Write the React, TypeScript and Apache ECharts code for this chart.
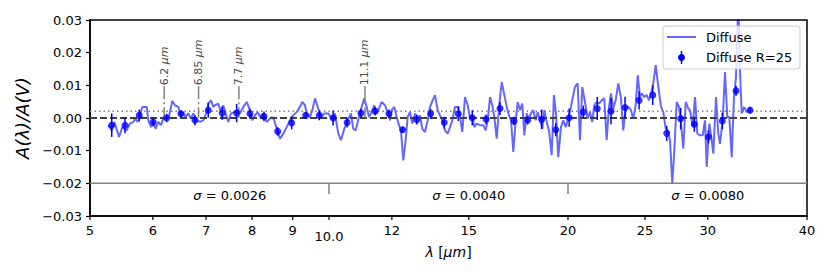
import React, { useEffect, useRef } from "react";
import * as echarts from "echarts";

// ---- Data ----
const specLam = [
  5.272, 5.325, 5.365, 5.439, 5.491, 5.561, 5.615, 5.669, 5.697, 5.742,
  5.78, 5.819, 5.894, 5.921, 5.968, 6.007, 6.049, 6.095, 6.143, 6.184,
  6.245, 6.287, 6.348, 6.398, 6.459, 6.51, 6.553, 6.599, 6.649, 6.701,
  6.746, 6.813, 6.879, 6.945, 7.013, 7.046, 7.101, 7.149,
  7.184, 7.253, 7.31, 7.359, 7.41, 7.467, 7.525, 7.598, 7.673, 7.724,
  7.799, 7.876, 7.952, 8.005, 8.068, 8.131, 8.186, 8.265, 8.346, 8.427,
  8.483, 8.532, 8.592, 8.675, 8.758, 8.845, 8.93, 9.016, 9.105, 9.193,
  9.254, 9.327, 9.373, 9.463, 9.527, 9.602, 9.677, 9.77, 9.864, 9.979,
  10.078,
  10.174, 10.272, 10.353, 10.453, 10.556, 10.658, 10.729, 10.804, 10.908, 10.994,
  11.077, 11.155, 11.229, 11.318, 11.403, 11.483, 11.56, 11.65, 11.763, 11.855,
  11.934, 11.993, 12.084, 12.168, 12.25, 12.321, 12.404, 12.49, 12.563, 12.647,
  12.732, 12.832, 12.933, 13.019, 13.107, 13.209, 13.313, 13.403, 13.508, 13.599,
  13.705, 13.797, 13.89, 14.0, 14.11, 14.205, 14.3,
  14.412, 14.551, 14.623, 14.721, 14.836, 14.953, 15.053, 15.154, 15.242, 15.348,
  15.496, 15.645, 15.754, 15.846, 15.952, 16.059, 16.152, 16.265, 16.374, 16.503,
  16.628, 16.744, 16.856, 16.954, 17.067, 17.187, 17.286, 17.402, 17.519, 17.621,
  17.741, 17.86, 17.963, 18.084, 18.21, 18.316, 18.439, 18.562, 18.67, 18.8,
  18.926, 19.075, 19.202, 19.314, 19.443, 19.596, 19.728, 19.865, 20.016, 20.173,
  20.308,
  20.408, 20.568, 20.706, 20.845, 21.009, 21.174, 21.315, 21.458, 21.583, 21.733,
  21.879, 22.051, 22.218, 22.373, 22.523, 22.655, 22.807, 22.966, 23.14, 23.322,
  23.477, 23.641, 23.82, 24.007, 24.168, 24.337, 24.483, 24.647, 24.768, 24.955,
  25.13, 25.298, 25.445, 25.615, 25.794, 25.989, 26.193, 26.368, 26.553, 26.707,
  26.886, 27.066, 27.223, 27.413, 27.597, 27.757, 27.943, 28.138, 28.351,
  28.492, 28.715, 28.907, 29.101, 29.33, 29.56, 29.758, 29.905, 30.131, 30.342,
  30.483, 30.722, 30.928, 31.081, 31.325, 31.535, 31.746, 31.93, 32.154, 32.368,
  32.557, 32.775, 32.937, 33.1, 33.321, 33.583, 33.837,
];
const specVal = [
  -0.0022, -0.0038, -0.0012, -0.0058, -0.0028, -0.0038, -0.0017, -0.0012, -0.0002, -0.0012,
  0.0008, 0.0034, 0.0034, -0.0007, -0.0028, -0.0012, -0.0033, -0.0012, -0.0022, -0.0002,
  -0.0002, 0.0005, 0.0052, 0.0039, 0.0034, 0.0005, 0.0018, 0.0003, 0.0014, -0.0002,
  0.0014, -0.0007, -0.0012, -0.0007, 0.0018, 0.0044, 0.0054, 0.0034,
  0.0039, 0.0044, 0.0018, 0.0039, 0.0014, -0.0012, 0.0014, 0.0018, 0.0024, 0.0014,
  0.0034, 0.0049, 0.0024, -0.0007, 0.0008, 0.0018, 0.0003, 0.0014, -0.0012, -0.0002,
  0.0003, -0.0007, -0.0033, -0.0063, -0.0048, -0.0028, -0.0007, 0.0008, 0.0018, 0.0034,
  0.0049, 0.0039, 0.0014, 0.0003, 0.0024, 0.006, 0.0034, 0.0003, 0.0014, 0.0014,
  -0.0002,
  0.0014, -0.0048, -0.0068, -0.0033, -0.0007, 0.0014, -0.0033, -0.0038, 0.0003, 0.0034,
  0.006, 0.0034, 0.0003, 0.0018, 0.0039, 0.0014, 0.0029, 0.0049, 0.0039, 0.0018,
  -0.0007, 0.0024, 0.0034, 0.0003, -0.0022, -0.0038, -0.013, -0.0068, 0.0003, 0.0018,
  -0.0017, 0.0014, -0.0002, 0.0008, -0.0033, -0.0043, -0.0007, 0.0034, 0.0054, 0.007,
  0.0024, 0.0008, -0.0007, -0.0038, -0.0048, -0.0028, -0.0007,
  0.0034, 0.0034, 0.0003, -0.0043, 0.0064, 0.0039, -0.0002, 0.0008, -0.0028, -0.0017,
  -0.0022, -0.0022, -0.0038, -0.0007, 0.0064, 0.0039, 0.0003, -0.0063, 0.0034, 0.011,
  0.007, 0.0034, 0.0008, -0.0007, -0.0104, -0.0007, 0.0049, 0.0024, 0.0044, -0.0053,
  0.0014, -0.0002, 0.0014, 0.0024, -0.0007, 0.0018, -0.0007, -0.0033, 0.0024, -0.0012,
  -0.0038, -0.0114, 0.007, 0.0014, -0.012, -0.0028, -0.0007, -0.0028, -0.0002, 0.0034,
  0.007,
  0.0095, 0.0106, -0.0068, 0.0095, 0.0049, -0.0002, 0.0018, -0.0012, 0.0039, 0.0049,
  0.0044, 0.0054, 0.006, -0.0068, 0.0034, 0.0075, 0.0029, 0.0054, 0.0106, 0.006,
  -0.0038, 0.0029, 0.0034, 0.0024, -0.0002, 0.0039, 0.0131, 0.0064, 0.0075, 0.0064,
  0.007, 0.0054, 0.0075, 0.0106, 0.0162, 0.0095, 0.0034, 0.0018, -0.0033, -0.0038,
  -0.0068, -0.0201, -0.0099, 0.0049, 0.0034, -0.0017, -0.0094, 0.0049, 0.0029,
  0.0024, -0.0028, 0.0064, -0.0048, -0.0053, -0.0053, -0.0007, -0.015, -0.0017, -0.0068,
  -0.0109, 0.0064, -0.0048, -0.0079, -0.0007, 0.0141, 0.0003, 0.0003, -0.012, 0.0064,
  0.0126, 0.036, 0.0146, 0.0014, 0.0034, 0.0018, 0.0024,
];

const binLam = [
  5.325, 5.534, 5.768, 6.006, 6.245, 6.509, 6.779, 7.046, 7.337, 7.65,
  7.952, 8.281, 8.617, 8.974, 9.346, 9.722, 10.12, 10.54, 10.97, 11.43,
  11.9, 12.38, 12.9, 13.43, 13.97, 14.55, 15.15, 15.77, 16.42, 17.1,
  17.79, 18.53, 19.3, 20.07, 20.91, 21.77, 22.66, 23.6, 24.58, 25.57,
  26.63, 27.73, 28.85, 30.05, 31.29, 32.56, 33.91,
];
const binVal = [
  -0.0022, -0.0022, 0.0008, -0.0012, 0.0, 0.0013, -0.0007, 0.0024, 0.0015, 0.0015,
  0.0013, 0.0005, -0.0041, -0.0015, 0.0008, 0.0008, 0.0, -0.0014, 0.0015, 0.0021,
  0.0013, -0.0036, -0.0005, 0.0013, -0.0014, 0.0013, 0.0001, -0.0004, 0.0029, -0.0009,
  -0.0007, -0.0004, -0.0036, 0.0001, 0.0018, 0.0029, 0.0021, 0.0032, 0.0054, 0.007,
  -0.0047, -0.0002, -0.0019, -0.0058, -0.0009, 0.0083, 0.0024,
];
const binErr = [
  0.0036, 0.0025, 0.0018, 0.0013, 0.0013, 0.001, 0.0015, 0.0023, 0.002, 0.0028,
  0.0015, 0.0015, 0.0013, 0.002, 0.001, 0.0015, 0.0023, 0.0015, 0.0013, 0.0013,
  0.0013, 0.001, 0.0015, 0.0015, 0.0018, 0.0022, 0.0023, 0.0015, 0.002, 0.0013,
  0.0013, 0.003, 0.002, 0.0028, 0.002, 0.0035, 0.004, 0.0033, 0.0028, 0.003,
  0.0023, 0.0033, 0.0023, 0.002, 0.0025, 0.0015, 0.001,
];

const featureLam = [6.2, 6.85, 7.7, 11.1];
const featureLabels = ["6.2", "6.85", "7.7", "11.1"];
const featureTop = 0.0097;

const xTickVals = [5, 6, 7, 8, 9, 10, 12, 15, 20, 25, 30, 40];
const xTickLabels = ["5", "6", "7", "8", "9", "10.0", "12", "15", "20", "25", "30", "40"];

const sigmaStart = [5, 10, 20];
const sigmaEnd = [10, 20, 40];
const sigmaLabels = ["0.0026", "0.0040", "0.0080"];
const sigmaLevel = -0.02;
const sigmaTickEnd = -0.0233;
const sigmaTextLevel = -0.0237;

const refLevels = [0, 0.0021];

const FONT = "'DejaVu Sans', sans-serif";

export default function App() {
  const ref = useRef<HTMLDivElement>(null);

  useEffect(() => {
    document.body.style.margin = "0";
    const chart = echarts.init(ref.current!, null, { renderer: "svg" });

    const option: any = {
      animation: false,
      grid: {
        left: 90,
        right: 23,
        top: 20,
        bottom: 61,
        show: true,
        borderColor: "#000",
        borderWidth: 1.5,
        backgroundColor: "transparent",
      },
      xAxis: {
        type: "log",
        logBase: 10,
        min: 5,
        max: 40,
        axisLine: { show: true, onZero: false, lineStyle: { color: "#000", width: 1.5 } },
        axisTick: { show: false },
        axisLabel: { show: false },
        splitLine: { show: false },
        minorTick: { show: false },
        name: "{i|λ} [{i|μm}]",
        nameLocation: "middle",
        nameGap: 29,
        nameTextStyle: {
          color: "#000",
          fontSize: 14,
          fontFamily: FONT,
          rich: { i: { fontStyle: "italic", fontSize: 14, fontFamily: FONT, color: "#000" } },
        },
      },
      yAxis: {
        type: "value",
        min: -0.03,
        max: 0.03,
        interval: 0.01,
        axisLine: { show: true, onZero: false, lineStyle: { color: "#000", width: 1.5 } },
        axisTick: { show: true, length: 4, lineStyle: { color: "#000", width: 1.2 } },
        axisLabel: {
          color: "#000",
          fontSize: 13,
          fontFamily: FONT,
          margin: 8,
          formatter: (v: number) =>
            Math.abs(v) < 1e-9 ? "0.00" : (v < 0 ? "\u2212" : "") + Math.abs(v).toFixed(2),
        },
        splitLine: { show: false },
        name: "A(λ)/A(V)",
        nameLocation: "middle",
        nameGap: 57,
        nameRotate: 90,
        nameTextStyle: { color: "#000", fontSize: 18, fontStyle: "italic", fontFamily: FONT },
      },
      series: [
        {
          name: "Diffuse",
          type: "line",
          data: specLam.map((l, i) => [l, specVal[i]]),
          symbol: "none",
          showSymbol: false,
          clip: true,
          lineStyle: { color: "rgba(0,0,255,0.6)", width: 2 },
          z: 2,
          silent: true,
        },
        {
          name: "ref",
          type: "custom",
          data: refLevels.map((l) => [5, 40, l]),
          encode: { x: [0, 1], y: 2 },
          z: 3,
          silent: true,
          renderItem: (params: any, api: any) => {
            const a = api.coord([api.value(0), api.value(2)]);
            const b = api.coord([api.value(1), api.value(2)]);
            const st =
              params.dataIndex === 0
                ? { stroke: "#404040", lineWidth: 2, lineDash: [7, 3], fill: null }
                : { stroke: "#808080", lineWidth: 1.5, lineDash: [1.5, 3], fill: null };
            return { type: "line", shape: { x1: a[0], y1: a[1], x2: b[0], y2: b[1] }, style: st };
          },
        },
        {
          name: "features",
          type: "custom",
          data: featureLam.map((l) => [l, 0]),
          encode: { x: 0, y: 1 },
          z: 3,
          silent: true,
          renderItem: (params: any, api: any) => {
            const lam = api.value(0);
            const top = api.coord([lam, featureTop]);
            const bot = api.coord([lam, 0]);
            return {
              type: "group",
              children: [
                {
                  type: "line",
                  shape: { x1: top[0], y1: top[1], x2: bot[0], y2: bot[1] },
                  style: { stroke: "#808080", lineWidth: 1.5, lineDash: [13, 3, 2, 3], fill: null },
                },
                {
                  type: "text",
                  x: top[0],
                  y: top[1] - 1,
                  rotation: Math.PI / 2,
                  style: {
                    text: featureLabels[params.dataIndex] + " {i|μm}",
                    fill: "#4a4a4a",
                    font: `11px ${FONT}`,
                    align: "left",
                    verticalAlign: "middle",
                    rich: { i: { fontStyle: "italic", fontSize: 11, fontFamily: FONT, fill: "#4a4a4a" } },
                  },
                },
              ],
            };
          },
        },
        {
          name: "sigma",
          type: "custom",
          data: sigmaStart.map((s, i) => [s, sigmaEnd[i], sigmaLevel]),
          encode: { x: [0, 1], y: 2 },
          z: 3,
          silent: true,
          renderItem: (params: any, api: any) => {
            const s = api.value(0);
            const e = api.value(1);
            const a = api.coord([s, sigmaLevel]);
            const b = api.coord([e, sigmaLevel]);
            const t = api.coord([s, sigmaTickEnd]);
            const m = api.coord([(s + e) / 2, sigmaTextLevel]);
            const children: any[] = [
              {
                type: "line",
                shape: { x1: a[0], y1: a[1], x2: b[0], y2: b[1] },
                style: { stroke: "#808080", lineWidth: 1.5, fill: null },
              },
              {
                type: "text",
                x: m[0],
                y: m[1],
                style: {
                  text: "{s|σ} = " + sigmaLabels[params.dataIndex],
                  fill: "#000",
                  font: `13px ${FONT}`,
                  align: "center",
                  verticalAlign: "middle",
                  rich: { s: { fontStyle: "italic", fontSize: 13, fontFamily: FONT, fill: "#000" } },
                },
              },
            ];
            if (params.dataIndex > 0) {
              children.push({
                type: "line",
                shape: { x1: a[0], y1: a[1], x2: t[0], y2: t[1] },
                style: { stroke: "#808080", lineWidth: 1.5, fill: null },
              });
            }
            return { type: "group", children };
          },
        },
        {
          name: "errbars",
          type: "custom",
          data: binLam.map((l, i) => [l, binVal[i], binErr[i]]),
          encode: { x: 0, y: 1 },
          z: 4,
          silent: true,
          renderItem: (params: any, api: any) => {
            const x = api.value(0);
            const y = api.value(1);
            const e = api.value(2);
            const a = api.coord([x, y + e]);
            const b = api.coord([x, y - e]);
            return {
              type: "line",
              shape: { x1: a[0], y1: a[1], x2: b[0], y2: b[1] },
              style: { stroke: "#0000ff", lineWidth: 1.5, fill: null },
            };
          },
        },
        {
          name: "Diffuse R=25",
          type: "scatter",
          data: binLam.map((l, i) => [l, binVal[i]]),
          symbol: "circle",
          symbolSize: 7,
          itemStyle: { color: "#0000ff" },
          z: 5,
          silent: true,
        },
        {
          name: "xticks",
          type: "custom",
          data: xTickVals.map((v) => [v, -0.03]),
          encode: { x: 0, y: 1 },
          z: 5,
          silent: true,
          renderItem: (params: any, api: any) => {
            const p = api.coord([api.value(0), -0.03]);
            const lab = xTickLabels[params.dataIndex];
            return {
              type: "group",
              children: [
                {
                  type: "line",
                  shape: { x1: p[0], y1: p[1], x2: p[0], y2: p[1] + 4 },
                  style: { stroke: "#000", lineWidth: 1.2, fill: null },
                },
                {
                  type: "text",
                  x: p[0],
                  y: p[1] + (lab === "10.0" ? 20 : 14.5),
                  style: {
                    text: lab,
                    fill: "#000",
                    font: `13px ${FONT}`,
                    align: "center",
                    verticalAlign: "middle",
                  },
                },
              ],
            };
          },
        },
      ],
      graphic: {
        elements: [
          {
            type: "rect",
            z: 100,
            shape: { x: 663, y: 26, width: 137, height: 43, r: 3 },
            style: { fill: "rgba(255,255,255,0.8)", stroke: "#cccccc", lineWidth: 1 },
          },
          {
            type: "line",
            z: 101,
            shape: { x1: 667, y1: 37, x2: 696, y2: 37 },
            style: { stroke: "rgba(0,0,255,0.6)", lineWidth: 2 },
          },
          {
            type: "text",
            z: 101,
            x: 706,
            y: 37,
            style: { text: "Diffuse", fill: "#000", font: `13px ${FONT}`, verticalAlign: "middle", align: "left" },
          },
          {
            type: "line",
            z: 101,
            shape: { x1: 681.5, y1: 51, x2: 681.5, y2: 64 },
            style: { stroke: "#0000ff", lineWidth: 1.5 },
          },
          {
            type: "circle",
            z: 102,
            shape: { cx: 681.5, cy: 57.5, r: 3.5 },
            style: { fill: "#0000ff" },
          },
          {
            type: "text",
            z: 101,
            x: 706,
            y: 57.5,
            style: { text: "Diffuse R=25", fill: "#000", font: `13px ${FONT}`, verticalAlign: "middle", align: "left" },
          },
        ],
      },
    };

    chart.setOption(option);
    return () => chart.dispose();
  }, []);

  return (
    <div
      ref={ref}
      style={{ position: "fixed", left: 0, top: 0, width: 830, height: 277, background: "#fff" }}
    />
  );
}
